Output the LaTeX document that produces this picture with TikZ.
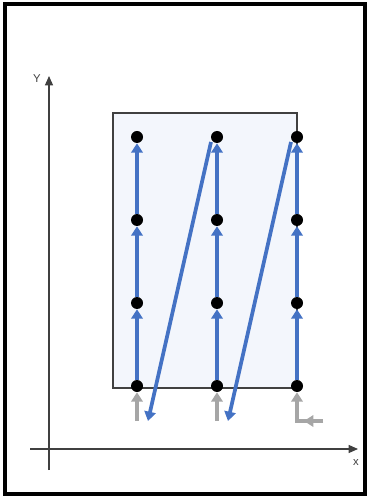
\documentclass[tikz,border=0pt]{standalone}
\usepackage{fontspec}
\setmainfont{Liberation Sans}
\usetikzlibrary{arrows.meta}
\definecolor{flowblue}{HTML}{4472C4}
\definecolor{flowgray}{HTML}{A6A6A6}
\definecolor{boxfill}{HTML}{F3F6FC}
\definecolor{axisgray}{HTML}{404040}
\tikzset{
  dot/.style={circle,fill=black,inner sep=0pt,minimum size=9pt},
  bluearrow/.style={draw=flowblue,line width=2.8pt,-{Triangle[width=8.5pt,length=7pt]}},
  grayarrow/.style={draw=flowgray,line width=2.8pt,-{Triangle[width=8.5pt,length=7pt]}},
  axis/.style={draw=axisgray,line width=0.9pt,-{Triangle[width=6pt,length=7pt]}},
  lbl/.style={font=\fontsize{8.5pt}{10pt}\selectfont,text=axisgray,inner sep=0pt}
}
\begin{document}
\begin{tikzpicture}[x=0.75pt,y=-0.75pt]
\useasboundingbox (0,0) rectangle (368,498);
% outer frame
\draw[line width=2.4pt] (5,4) rectangle (365,494);
% region box
\draw[draw=axisgray,fill=boxfill,line width=0.8pt] (113,113) rectangle (297,388);
% axes
\coordinate (yb) at (49,470);
\coordinate (yt) at (49,76);
\coordinate (xl) at (30,449);
\coordinate (xr) at (358,449);
\draw[axis] (yb) -- (yt);
\draw[axis] (xl) -- (xr);
\node[lbl] (ylab) at (37,79) {Y};
\node[lbl] (xlab) at (356,463) {x};
% dots
\foreach \c/\x in {1/137,2/217,3/297}{
  \foreach \r/\y in {1/386,2/303,3/220,4/137}{
    \node[dot] (d\c\r) at (\x,\y) {};
  }
}
% vertical blue arrows
\foreach \c in {1,2,3}{
  \draw[bluearrow] (d\c1) -- (d\c2);
  \draw[bluearrow] (d\c2) -- (d\c3);
  \draw[bluearrow] (d\c3) -- (d\c4);
}
% diagonal blue arrows
\coordinate (s2) at (211,142);
\coordinate (e1) at (148,421);
\coordinate (s3) at (291,142);
\coordinate (e2) at (228,421);
\draw[bluearrow] (s2) -- (e1);
\draw[bluearrow] (s3) -- (e2);
% gray entry arrows
\coordinate (g1) at (137,421);
\coordinate (g2) at (217,421);
\coordinate (g3) at (297,421);
\coordinate (h3) at (323,421);
\coordinate (h3t) at (304,421);
\draw[grayarrow] (g1) -- (d11);
\draw[grayarrow] (g2) -- (d21);
\draw[grayarrow,line join=miter] (h3) -- (g3) -- (d31);
\draw[grayarrow] (h3) -- (h3t);
\end{tikzpicture}
\end{document}
